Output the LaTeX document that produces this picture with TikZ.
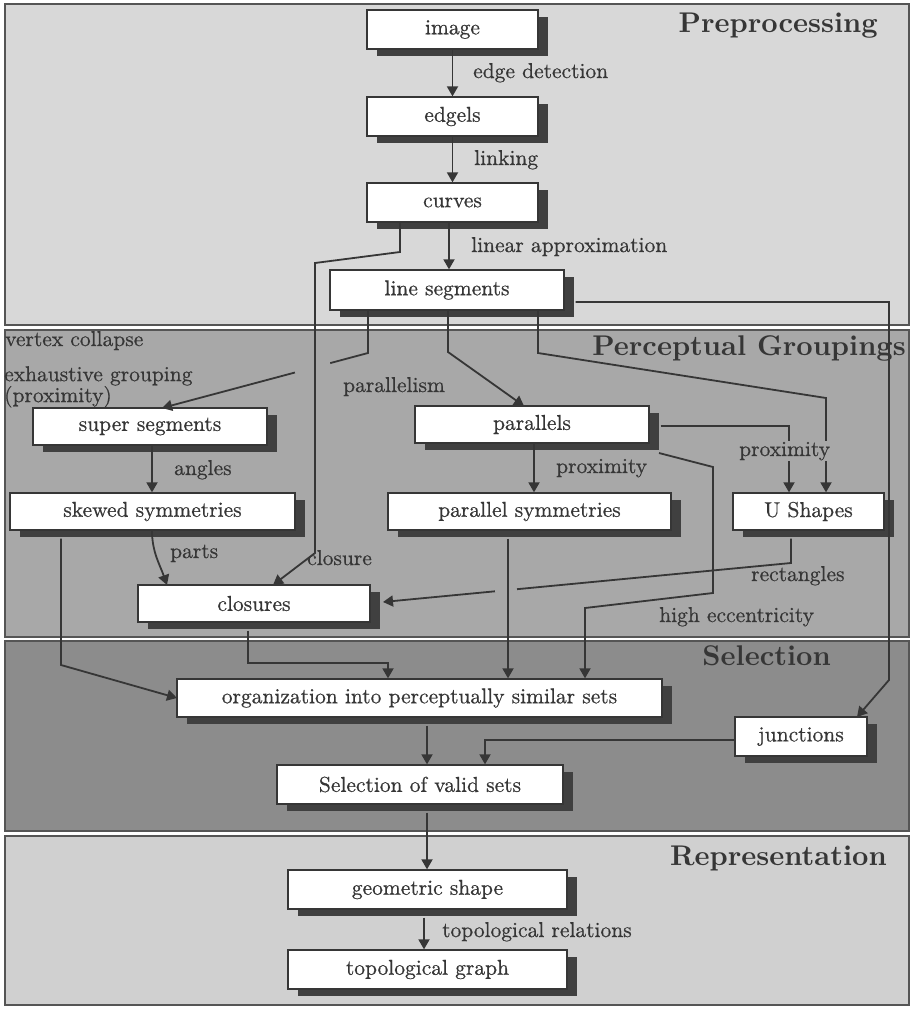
\documentclass[tikz,border=0pt]{standalone}
\usepackage{fontspec}
\usetikzlibrary{arrows.meta,shadows,calc}
\newfontfamily\lmtext{lmroman10-regular.otf}[FakeBold=0.6]
\newfontfamily\lmtitle{lmroman10-bold.otf}
\definecolor{ink}{HTML}{363636}
\definecolor{shadowc}{HTML}{404040}
\definecolor{pcolA}{HTML}{D8D8D8}
\definecolor{pcolB}{HTML}{A8A8A8}
\definecolor{pcolC}{HTML}{8C8C8C}
\definecolor{pcolD}{HTML}{D0D0D0}
\definecolor{framec}{HTML}{555555}
\newcommand\boxfont{\lmtext\fontsize{21.5}{24}\selectfont}
\newcommand\titlefont{\lmtitle\fontsize{28.5}{32}\selectfont}
\begin{document}
\begin{tikzpicture}[x=1pt,y=-1pt,
  panel/.style={draw=framec, line width=1.5pt},
  box/.style={draw=ink, line width=1.3pt, fill=white, text=ink, font=\boxfont,
    inner sep=0pt, anchor=center, minimum height=39pt,
    drop shadow={shadow xshift=10pt, shadow yshift=-7pt, opacity=1, fill=shadowc}},
  conn/.style={draw=ink, line width=1.8pt, -{Triangle[length=10pt,width=11pt]}},
  lab/.style={text=ink, font=\boxfont, inner sep=0pt, anchor=base west},
  title/.style={text=ink, font=\titlefont, inner sep=0pt, anchor=base east}]
\useasboundingbox (0,0) rectangle (912,1010);
% panels
\draw[panel, fill=pcolA] (5,4) rectangle (909,325);
\draw[panel, fill=pcolB] (5,330) rectangle (909,637);
\draw[panel, fill=pcolC] (5,641) rectangle (909,831);
\draw[panel, fill=pcolD] (5,836) rectangle (909,1005);
% titles
\node[title] (tpre) at (878,32) {Preprocessing};
\node[title] (tper) at (906,355) {Perceptual Groupings};
\node[title] (tsel) at (831,665) {Selection};
\node[title] (trep) at (887,865) {Representation};
% nodes
\node[box, minimum width=171pt] (image) at (452.5,29.5) {image};
\node[box, minimum width=171pt] (edgels) at (452.5,116.5) {edgels};
\node[box, minimum width=171pt] (curves) at (452.5,202.5) {curves};
\node[box, minimum width=234pt, minimum height=40pt] (lseg) at (447,290) {line segments};
\node[box, minimum width=234pt, minimum height=37pt] (ssup) at (150,426.5) {super segments};
\node[box, minimum width=285pt, minimum height=37pt] (skew) at (152.5,511.5) {skewed symmetries};
\node[box, minimum width=232pt, minimum height=37pt] (clos) at (254,603.5) {closures};
\node[box, minimum width=234pt, minimum height=37pt] (par) at (532,424.5) {parallels};
\node[box, minimum width=283pt, minimum height=37pt] (psym) at (529.5,511.5) {parallel symmetries};
\node[box, minimum width=151pt, minimum height=37pt] (ush) at (808.5,511.5) {U Shapes};
\node[box, minimum width=485pt, minimum height=38pt] (org) at (419.5,698) {organization into perceptually similar sets};
\node[box, minimum width=132pt] (junc) at (801,736.5) {junctions};
\node[box, minimum width=286pt] (sel) at (420,784.5) {Selection of valid sets};
\node[box, minimum width=279pt] (geo) at (427.5,889.5) {geometric shape};
\node[box, minimum width=279pt] (topo) at (427.5,969.5) {topological graph};
% preprocessing chain
\draw[conn] (image.south) -- (edgels.north);
\draw[conn] (edgels.south) -- (curves.north);
\coordinate (a1) at (449,0);
\draw[conn] (a1 |- curves.south) -- (a1 |- lseg.north);
\node[lab] (ledge) at (473,78) {edge detection};
\node[lab] (llink) at (474,165) {linking};
\node[lab] (llin) at (471,252) {linear approximation};
% line segments -> super segments (with crossing gap)
\coordinate (v0) at (368,0);
\coordinate (v1) at (368,353);
\coordinate (v2) at (162,408);
\draw[conn] (v0 |- lseg.south) -- (v1) -- (v2);
\draw[line width=5pt, pcolB] ($(v1)!0.184!(v2)$) -- ($(v1)!0.354!(v2)$);
% curves -> closures
\coordinate (k1) at (400,252);
\coordinate (k2) at (315,263);
\coordinate (k3) at (315,553);
\coordinate (k4) at (273,585);
\draw[conn] (k1 |- curves.south) -- (k1) -- (k2) -- (k3) -- (k4);
% line segments -> parallels
\coordinate (p1) at (448,352);
\coordinate (p2) at (524,406);
\draw[conn] (p1 |- lseg.south) -- (p1) -- (p2);
% line segments -> U shapes
\coordinate (u1) at (538,353);
\coordinate (u2) at (826,398);
\draw[conn] (u1 |- lseg.south) -- (u1) -- (u2) -- (u2 |- ush.north);
% line segments -> junctions
\coordinate (j1) at (889,302);
\coordinate (j2) at (889,680);
\coordinate (j3) at (857,717);
\draw[conn] (lseg.east |- j1) ++(11,0) -- (j1) -- (j2) -- (j3);
% super -> skewed
\coordinate (s1) at (152,0);
\draw[conn] (s1 |- ssup.south) -- (s1 |- skew.north);
\node[lab] (langl) at (174,475) {angles};
% skewed -> closures
\coordinate (s2) at (167,585);
\draw[conn] (s1 |- skew.south) .. controls (152,552) and (160,565) .. (s2);
\node[lab] (lpart) at (170,558) {parts};
\node[lab] (lclo) at (307,565) {closure};
% parallels -> parallel symmetries
\coordinate (q1) at (534,0);
\draw[conn] (q1 |- par.south) -- (q1 |- psym.north);
\node[lab] (lprox1) at (556,473) {proximity};
% parallels -> U shapes
\coordinate (r1) at (789,426);
\draw[conn] (par.east |- r1) ++(11,0) -- (r1) -- (r1 |- ush.north);
% U shapes -> closures (with gap)
\coordinate (w1) at (791,563);
\coordinate (w2) at (383,602);
\draw[conn] (w1 |- ush.south) ++(0,8) -- (w1) -- (w2);
\draw[line width=5pt, pcolB] ($(w1)!0.672!(w2)$) -- ($(w1)!0.725!(w2)$);
\node[lab] (lrect) at (751,581) {rectangles};
% parallels -> organization (high eccentricity)
\coordinate (h0) at (659,453);
\coordinate (h1) at (713,467);
\coordinate (h2) at (713,593);
\coordinate (h3) at (585,608);
\draw[conn] (h0) -- (h1) -- (h2) -- (h3) -- (h3 |- org.north);
\node[lab] (lecc) at (659,622) {high eccentricity};
% parallel symmetries -> organization
\coordinate (m1) at (508,0);
\draw[conn] (m1 |- psym.south) ++(0,8) -- (m1 |- org.north);
% skewed -> organization
\coordinate (e1) at (61,665);
\coordinate (e2) at (177,698);
\draw[conn] (e1 |- skew.south) ++(0,8) -- (e1) -- (e2);
% closures -> organization
\coordinate (f1) at (248,663);
\coordinate (f2) at (388,663);
\draw[conn] (f1 |- clos.south) ++(0,8) -- (f1) -- (f2) -- (f2 |- org.north);
% organization -> selection
\coordinate (g1) at (427,0);
\draw[conn] (g1 |- org.south) ++(0,8) -- (g1 |- sel.north);
% junctions -> selection
\coordinate (n1) at (485,740);
\draw[conn] (junc.west |- n1) -- (n1) -- (n1 |- sel.north);
% selection -> geometric shape
\draw[conn] (g1 |- sel.south) ++(0,8) -- (g1 |- geo.north);
% geometric -> topological
\coordinate (t1) at (424,0);
\draw[conn] (t1 |- geo.south) ++(0,8) -- (t1 |- topo.north);
\node[lab] (ltop) at (442,937) {topological relations};
% labels in perceptual groupings
\node[lab] (lvert) at (5,346) {vertex collapse};
\node[lab, align=left, anchor=north west] (lexh) at (4,366) {exhaustive grouping\\[-3pt](proximity)};
\node[lab] (lparl) at (343,392) {parallelism};
\node[lab, fill=pcolB, inner sep=1pt] (lprox2) at (738,456) {proximity};
\end{tikzpicture}
\end{document}
